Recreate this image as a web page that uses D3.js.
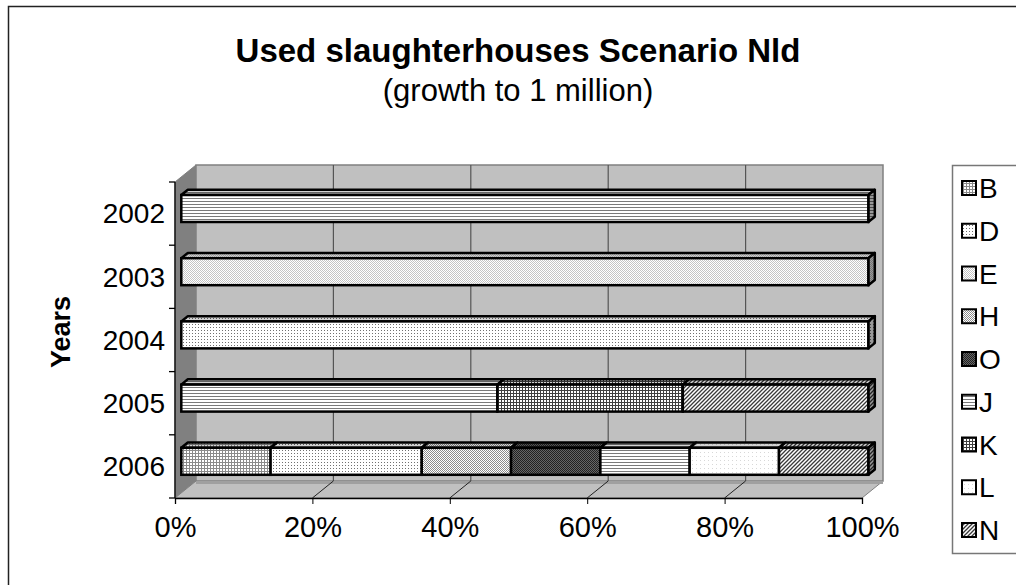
<!DOCTYPE html>
<html><head><meta charset="utf-8">
<script src="https://cdn.jsdelivr.net/npm/d3@7"></script>
<style>body{margin:0;background:#fff}svg{display:block}text{font-family:"Liberation Sans",Arial,sans-serif}</style>
</head><body><svg id="c" width="1016" height="585"></svg>
<script>
const years = ["2002","2003","2004","2005","2006"];
const seriesNames = ["B","D","E","H","O","J","K","L","N"];
const valB = [0,0,0,0,13];
const valD = [0,0,100,0,22];
const valE = [0,100,0,0,0];
const valH = [0,0,0,0,13];
const valO = [0,0,0,0,13];
const valJ = [100,0,0,46,13];
const valK = [0,0,0,27,0];
const valL = [0,0,0,0,13];
const valN = [0,0,0,27,13];
const xTicks = [0,20,40,60,80,100];
const title = "Used slaughterhouses Scenario Nld";
const subtitle = "(growth to 1 million)";
const yTitle = "Years";

const allVals = {B:valB,D:valD,E:valE,H:valH,O:valO,J:valJ,K:valK,L:valL,N:valN};
const svg = d3.select("#c");
const defs = svg.append("defs");

function pat(id, w, h, bg, draw){
  const p = defs.append("pattern").attr("id",id).attr("patternUnits","userSpaceOnUse").attr("width",w).attr("height",h);
  p.append("rect").attr("width",w).attr("height",h).attr("fill",bg);
  draw(p);
}
const px=(p,x,y,c,w=1,h=1)=>p.append("rect").attr("x",x).attr("y",y).attr("width",w).attr("height",h).attr("fill",c);
pat("pB",3,3,"#fff",p=>{px(p,0,0,"#8a8a8a",3,1);px(p,0,0,"#8a8a8a",1,3);});
pat("pD",3,3,"#fff",p=>{px(p,0,0,"#707070");});
pat("pE",2,2,"#fff",p=>{px(p,0,0,"#c4c4c4");px(p,1,1,"#c4c4c4");});
pat("pH",2,2,"#fff",p=>{px(p,0,0,"#8c8c8c");px(p,1,1,"#8c8c8c");});
pat("pO",2,2,"#666",p=>{px(p,0,0,"#222");px(p,1,1,"#222");});
pat("pJ",3,3,"#fff",p=>{px(p,0,0,"#7a7a7a",3,1);});
pat("pK",3,3,"#fff",p=>{px(p,0,0,"#404040",3,1);px(p,0,0,"#404040",1,3);});
pat("pL",4,4,"#fff",p=>{px(p,0,0,"#d8d8d8");});
pat("pN",4,4,"#fff",p=>{p.append("path").attr("d","M-1,1 L1,-1 M0,4 L4,0 M3,5 L5,3").attr("stroke","#3a3a3a").attr("stroke-width",1.3);});

// outer border
svg.append("rect").attr("x",8.5).attr("y",6.5).attr("width",1100).attr("height",700).attr("fill","none").attr("stroke","#222").attr("stroke-width",1.5);

// geometry
const X0=175, X1=862, Y0=182, Y1=498, DX=21, DY=-17;
const x = d3.scaleLinear().domain([0,100]).range([X0,X1]);
const y = d3.scaleBand().domain(years).range([Y0,Y1]).paddingInner(0.573).paddingOuter(0.2865);
const P=(xv,yv,d)=>[xv+DX*d, yv+DY*d];
const poly=pts=>"M"+pts.map(p=>p.join(",")).join("L")+"Z";

// walls
svg.append("path").attr("d",poly([P(X0,Y0,0),P(X0,Y0,1),P(X0,Y1,1),P(X0,Y1,0)])).attr("fill","#808080").attr("stroke","#808080");
svg.append("path").attr("d",poly([P(X0,Y1,0),P(X0,Y1,1),P(X1,Y1,1),P(X1,Y1,0)])).attr("fill","#c0c0c0").attr("stroke","#808080");
svg.append("path").attr("d",poly([P(X0,Y0,1),P(X1,Y0,1),P(X1,Y1,1),P(X0,Y1,1)])).attr("fill","#c0c0c0").attr("stroke","#808080").attr("stroke-width",1.5);
svg.append("line").attr("x1",P(X0,Y1,1)[0]).attr("x2",P(X1,Y1,1)[0]).attr("y1",P(X0,Y1,1)[1]+1.5).attr("y2",P(X0,Y1,1)[1]+1.5).attr("stroke","#a0a0a0").attr("stroke-width",3);

// gridlines
xTicks.filter(t=>t>0&&t<100).forEach(t=>{
  const b=P(x(t),Y0,1), bb=P(x(t),Y1,1), f=P(x(t),Y1,0);
  svg.append("line").attr("x1",b[0]).attr("y1",b[1]).attr("x2",bb[0]).attr("y2",bb[1]).attr("stroke","#555").attr("stroke-width",1.2);
  svg.append("line").attr("x1",bb[0]).attr("y1",bb[1]).attr("x2",f[0]).attr("y2",f[1]).attr("stroke","#222").attr("stroke-width",1);
});

// axes
const gx = svg.append("g").attr("transform",`translate(0,${Y1})`).call(d3.axisBottom(x).tickValues(xTicks).tickFormat(d=>d+"%").tickSize(6).tickPadding(12));
gx.select(".domain").attr("stroke","#000").attr("stroke-width",1.3);
gx.selectAll("text").attr("font-size",29).attr("fill","#000").style("font-family","Liberation Sans, Arial, sans-serif");
const yTickScale = d3.scaleLinear().domain([0,years.length]).range([Y0,Y1]);
const gy = svg.append("g").attr("transform",`translate(${X0},0)`);
gy.append("line").attr("x1",0).attr("x2",0).attr("y1",Y0).attr("y2",Y1).attr("stroke","#000").attr("stroke-width",1.3);
d3.range(years.length+1).forEach(i=>gy.append("line").attr("x1",-6).attr("x2",0).attr("y1",yTickScale(i)).attr("y2",yTickScale(i)).attr("stroke","#000").attr("stroke-width",1.3));
years.forEach(yr=>gy.append("text").attr("x",-10).attr("y",y(yr)+y.bandwidth()/2).attr("dy","0.35em").attr("text-anchor","end").attr("font-size",28).text(yr));

// bars
const D0=0.3, D1=0.61;
years.forEach((yr,i)=>{
  let acc=0;
  const segs=[];
  seriesNames.forEach(s=>{const v=allVals[s][i]; if(v>0){segs.push({s,a:acc,b:acc+v}); acc+=v;}});
  const yt=y(yr), yb=y(yr)+y.bandwidth();
  segs.forEach((g,k)=>{
    const xa=x(g.a), xb=x(g.b);
    const fill=`url(#p${g.s})`;
    const top=poly([P(xa,yt,D0),P(xb,yt,D0),P(xb,yt,D1),P(xa,yt,D1)]);
    svg.append("path").attr("d",top).attr("fill",fill);
    svg.append("path").attr("d",top).attr("fill","#000").attr("fill-opacity",0.18).attr("stroke","#000").attr("stroke-width",2.5).attr("stroke-linejoin","round");
    if(k===segs.length-1){
      const side=poly([P(xb,yt,D0),P(xb,yt,D1),P(xb,yb,D1),P(xb,yb,D0)]);
      svg.append("path").attr("d",side).attr("fill",fill);
      svg.append("path").attr("d",side).attr("fill","#000").attr("fill-opacity",0.4).attr("stroke","#000").attr("stroke-width",2.5).attr("stroke-linejoin","round");
    }
    const f0=P(xa,yt,D0), f1=P(xb,yb,D0);
    svg.append("rect").attr("x",f0[0]).attr("y",f0[1]).attr("width",f1[0]-f0[0]).attr("height",f1[1]-f0[1]).attr("fill",fill).attr("stroke","#000").attr("stroke-width",2.5);
  });
});

// titles
svg.append("text").attr("x",518).attr("y",62).attr("text-anchor","middle").attr("font-size",33).attr("font-weight","bold").text(title);
svg.append("text").attr("x",518).attr("y",101).attr("text-anchor","middle").attr("font-size",31).text(subtitle);
svg.append("text").attr("transform","translate(70,332) rotate(-90)").attr("text-anchor","middle").attr("font-size",27).attr("font-weight","bold").text(yTitle);

// legend
const lg = svg.append("g");
lg.append("rect").attr("x",952.5).attr("y",165.5).attr("width",100).attr("height",388).attr("fill","#fff").attr("stroke","#777").attr("stroke-width",1.5);
seriesNames.forEach((s,i)=>{
  const cy=188+i*42.75;
  lg.append("rect").attr("x",962).attr("y",cy-7).attr("width",14).attr("height",14).attr("fill",`url(#p${s})`).attr("stroke","#000").attr("stroke-width",2);
  lg.append("text").attr("x",979).attr("y",cy).attr("dy","0.36em").attr("font-size",28).text(s);
});
</script></body></html>
